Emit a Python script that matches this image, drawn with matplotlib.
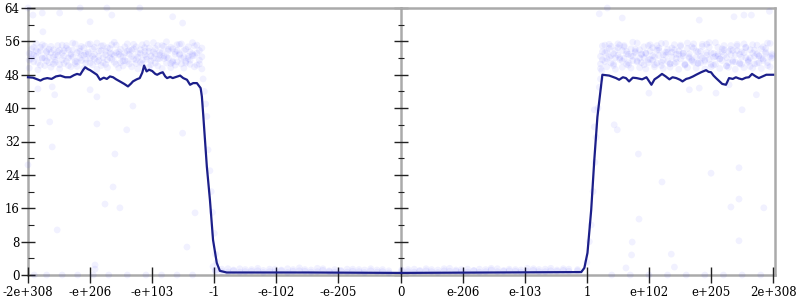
import matplotlib
matplotlib.use("Agg")
import matplotlib.pyplot as plt
from matplotlib.ticker import MultipleLocator

# ---------------- data ----------------
tick_labels = ["-2e+308", "-e+206", "-e+103", "-1", "-e-102", "-e-205", "0",
               "e-206", "e-103", "1", "e+102", "e+205", "2e+308"]
y_ticks = [0, 8, 16, 24, 32, 40, 48, 56, 64]

line_x = [0.00, 0.08, 0.15, 0.20, 0.25, 0.31, 0.38, 0.45, 0.52, 0.60,
          0.68, 0.74, 0.79, 0.84, 0.89, 0.92, 0.97, 1.00, 1.05, 1.11,
          1.16, 1.22, 1.27, 1.32, 1.37, 1.42, 1.48, 1.55, 1.61, 1.66,
          1.69, 1.75, 1.80, 1.84, 1.87, 1.91, 1.95, 2.00, 2.05, 2.08,
          2.13, 2.17, 2.21, 2.24, 2.29, 2.33, 2.39, 2.45, 2.50, 2.56,
          2.61, 2.66, 2.72, 2.75, 2.78, 2.80, 2.82, 2.85, 2.88, 2.93,
          2.98, 3.04, 3.09, 3.20, 4.50, 6.00, 7.50, 8.91, 8.96, 9.01,
          9.07, 9.12, 9.17, 9.25, 9.36, 9.47, 9.52, 9.58, 9.63, 9.68,
          9.74, 9.80, 9.86, 9.89, 9.96, 10.04, 10.09, 10.15, 10.21, 10.27,
          10.33, 10.38, 10.44, 10.50, 10.54, 10.60, 10.65, 10.71, 10.76, 10.84,
          10.92, 10.96, 11.00, 11.04, 11.08, 11.13, 11.18, 11.24, 11.29, 11.35,
          11.40, 11.45, 11.50, 11.56, 11.61, 11.66, 11.72, 11.77, 11.83, 11.89,
          12.00]
line_y = [47.4, 47.3, 46.9, 46.6, 47.0, 47.2, 47.0, 47.6, 47.8, 47.4,
          47.4, 47.9, 48.2, 48.0, 49.2, 49.8, 49.3, 49.1, 48.6, 48.0,
          46.8, 47.3, 47.0, 47.6, 47.4, 46.9, 46.4, 45.8, 45.2, 45.9,
          46.4, 46.9, 47.2, 48.5, 50.2, 48.8, 49.2, 48.9, 48.2, 48.0,
          48.4, 48.6, 47.6, 47.2, 47.5, 47.2, 47.5, 47.8, 47.2, 46.8,
          45.6, 46.0, 46.0, 45.4, 44.8, 42.8, 38.8, 32.4, 26.0, 18.0,
          8.4, 2.9, 1.0, 0.6, 0.6, 0.5, 0.6, 0.7, 1.7, 5.3,
          15.6, 27.6, 37.9, 48.0, 47.8, 47.2, 46.8, 47.4, 47.2, 46.4,
          47.3, 47.2, 47.0, 46.9, 47.4, 45.6, 46.9, 47.5, 48.2, 47.6,
          46.9, 47.4, 47.2, 46.8, 46.4, 47.0, 47.2, 47.6, 48.0, 48.6,
          49.1, 48.7, 48.6, 47.8, 47.2, 46.5, 45.8, 45.6, 47.2, 47.0,
          47.4, 47.1, 46.9, 47.3, 47.4, 48.2, 47.6, 47.2, 47.6, 48.0,
          48.0]

band_left_x = [0.02, 0.06, 0.09, 0.13, 0.16, 0.20, 0.23, 0.27, 0.30, 0.34,
               0.37, 0.41, 0.44, 0.48, 0.51, 0.55, 0.58, 0.62, 0.65, 0.69,
               0.72, 0.76, 0.79, 0.83, 0.86, 0.90, 0.93, 0.97, 1.00, 1.04,
               1.07, 1.11, 1.14, 1.18, 1.21, 1.25, 1.28, 1.32, 1.35, 1.39,
               1.42, 1.46, 1.49, 1.53, 1.56, 1.60, 1.63, 1.67, 1.70, 1.74,
               1.77, 1.81, 1.84, 1.88, 1.91, 1.95, 1.98, 2.02, 2.05, 2.09,
               2.12, 2.16, 2.19, 2.23, 2.26, 2.30, 2.33, 2.37, 2.40, 2.44,
               2.47, 2.51, 2.54, 2.58, 2.61, 2.65, 2.68, 2.72, 2.76, 2.80]
band_left_y1 = [53.1, 51.8, 54.6, 52.4, 50.9, 53.7, 55.2, 52.0, 51.3, 54.1,
                53.3, 50.6, 52.8, 55.0, 53.9, 51.6, 52.5, 54.4, 50.2, 53.0,
                52.2, 55.4, 51.1, 53.6, 54.8, 52.7, 50.8, 53.4, 51.9, 54.2,
                52.9, 55.6, 51.4, 53.8, 52.1, 50.5, 54.5, 53.2, 51.7, 52.6,
                55.1, 53.5, 50.9, 52.3, 54.7, 51.2, 53.9, 52.4, 55.3, 50.7,
                53.1, 54.0, 51.5, 52.8, 55.5, 53.6, 50.4, 52.0, 54.3, 51.8,
                53.4, 55.0, 52.5, 50.8, 53.7, 54.6, 51.3, 52.9, 55.2, 53.0,
                50.6, 52.2, 54.1, 51.9, 53.5, 55.7, 52.6, 50.3, 53.8, 54.4]
band_left_y2 = [51.5, 54.2, 52.7, 55.5, 53.4, 50.3, 52.1, 54.9, 53.6, 50.9,
                54.8, 52.3, 51.0, 53.5, 50.4, 55.1, 53.8, 51.2, 54.0, 52.6,
                55.6, 50.7, 53.3, 52.0, 51.4, 54.5, 53.1, 55.3, 50.8, 52.4,
                54.6, 51.1, 53.7, 50.2, 55.0, 52.8, 51.6, 54.3, 53.0, 55.8,
                50.5, 52.9, 54.1, 51.3, 53.2, 55.4, 50.6, 53.9, 51.8, 54.7,
                52.2, 50.9, 55.2, 53.6, 51.7, 54.4, 52.5, 55.7, 53.0, 50.1,
                51.9, 53.3, 54.8, 55.9, 52.0, 50.7, 54.2, 53.5, 51.1, 52.7,
                55.4, 53.8, 50.8, 52.4, 51.5, 53.0, 54.9, 55.1, 50.6, 52.3]
band_left_y3 = [49.6, 52.9, 51.1, 53.8, 49.2, 54.6, 51.9, 50.2, 53.4, 52.2,
                49.8, 54.0, 51.5, 52.6, 49.4, 53.2, 50.7, 55.0, 52.0, 49.9,
                53.9, 51.2, 50.0, 54.3, 52.8, 49.5, 51.7, 53.0, 55.4, 50.4,
                51.8, 49.3, 52.4, 54.9, 50.9, 53.6, 49.7, 52.1, 55.2, 51.0,
                53.3, 49.6, 52.5, 50.1, 51.4, 53.7, 52.9, 49.9, 54.2, 51.6,
                49.4, 53.1, 50.6, 54.5, 52.3, 49.8, 51.3, 53.5, 50.8, 55.0,
                52.7, 49.5, 51.9, 52.2, 54.1, 49.7, 51.0, 50.3, 53.8, 55.3,
                52.0, 49.6, 51.2, 54.7, 50.5, 52.6, 49.9, 53.2, 51.5, 49.4]

band_right_x = [9.22, 9.25, 9.29, 9.32, 9.36, 9.39, 9.43, 9.46, 9.50, 9.53,
                9.57, 9.60, 9.64, 9.67, 9.71, 9.74, 9.78, 9.81, 9.85, 9.88,
                9.92, 9.95, 9.99, 10.02, 10.06, 10.09, 10.13, 10.16, 10.20, 10.23,
                10.27, 10.30, 10.34, 10.37, 10.41, 10.44, 10.48, 10.51, 10.55, 10.58,
                10.62, 10.65, 10.69, 10.72, 10.76, 10.79, 10.83, 10.86, 10.90, 10.93,
                10.97, 11.00, 11.04, 11.07, 11.11, 11.14, 11.18, 11.21, 11.25, 11.28,
                11.32, 11.35, 11.39, 11.42, 11.46, 11.49, 11.53, 11.56, 11.60, 11.63,
                11.67, 11.70, 11.74, 11.77, 11.81, 11.84, 11.88, 11.91, 11.95, 11.98]
band_right_y1 = [52.4, 54.9, 51.2, 53.6, 55.3, 50.8, 53.0, 52.1, 54.5, 51.7,
                 53.8, 55.0, 50.5, 52.9, 54.2, 51.4, 53.3, 55.6, 52.0, 50.9,
                 54.7, 53.1, 51.6, 55.2, 52.6, 50.4, 53.9, 54.4, 51.0, 52.8,
                 55.5, 53.4, 50.7, 52.3, 54.0, 51.9, 53.7, 55.1, 52.5, 50.6,
                 54.3, 53.0, 51.3, 55.4, 52.2, 50.8, 53.6, 54.8, 51.5, 52.7,
                 55.7, 53.2, 50.3, 52.4, 54.6, 51.8, 53.5, 55.0, 52.1, 50.9,
                 54.1, 53.8, 51.1, 55.3, 52.9, 50.5, 53.3, 54.5, 51.6, 52.0,
                 55.2, 53.9, 50.7, 52.6, 54.2, 51.4, 53.1, 55.6, 52.3, 53.0]
band_right_y2 = [50.6, 53.5, 55.1, 51.9, 54.3, 52.6, 50.2, 53.8, 55.4, 52.1,
                 51.3, 54.7, 53.0, 50.9, 52.5, 55.8, 53.6, 51.1, 54.0, 52.8,
                 50.4, 53.2, 55.0, 51.7, 54.5, 52.3, 50.8, 53.9, 55.5, 51.5,
                 52.7, 54.1, 50.6, 53.4, 55.2, 51.0, 52.9, 54.8, 53.1, 50.3,
                 55.6, 52.0, 51.6, 54.4, 53.7, 50.7, 52.4, 55.3, 51.2, 53.3,
                 54.6, 50.5, 52.2, 55.7, 53.0, 51.8, 54.2, 52.7, 50.1, 53.6,
                 55.0, 51.4, 52.8, 54.9, 50.8, 53.5, 55.4, 52.1, 51.0, 54.0,
                 53.2, 50.6, 55.1, 52.5, 51.9, 54.7, 53.4, 50.9, 55.5, 52.0]
band_right_y3 = [49.5, 51.6, 53.3, 49.9, 52.2, 54.8, 50.6, 49.3, 52.7, 55.1,
                 49.8, 51.9, 53.6, 50.3, 49.6, 52.4, 54.1, 51.3, 49.7, 53.0,
                 52.1, 49.4, 50.9, 53.7, 51.5, 49.9, 55.0, 52.6, 50.2, 49.5,
                 53.4, 51.2, 49.8, 54.4, 50.7, 52.9, 49.3, 51.8, 53.2, 50.4,
                 49.7, 52.3, 54.7, 51.0, 49.6, 53.5, 50.8, 52.0, 49.4, 55.3,
                 51.7, 49.9, 53.1, 50.5, 52.5, 49.5, 51.4, 54.0, 50.1, 49.8,
                 52.8, 51.1, 49.3, 53.8, 50.6, 52.2, 49.7, 54.6, 51.3, 50.0,
                 49.6, 52.4, 53.0, 50.9, 49.5, 51.8, 54.3, 50.2, 49.9, 52.6]

bottom_x = [3.02, 3.12, 3.22, 3.31, 3.41, 3.50, 3.60, 3.70, 3.79, 3.89,
            3.98, 4.08, 4.18, 4.27, 4.37, 4.46, 4.56, 4.66, 4.75, 4.85,
            4.94, 5.04, 5.14, 5.23, 5.33, 5.42, 5.52, 5.62, 5.71, 5.81,
            6.02, 6.12, 6.22, 6.31, 6.41, 6.50, 6.60, 6.70, 6.79, 6.89,
            6.98, 7.08, 7.18, 7.27, 7.37, 7.46, 7.56, 7.66, 7.75, 7.85,
            7.94, 8.04, 8.14, 8.23, 8.33, 8.42, 8.52, 8.62, 8.71, 8.85]
bottom_y1 = [1.2, 0.8, 1.5, 1.0, 0.7, 1.3, 0.9, 1.6, 1.1, 0.8,
             1.4, 1.0, 0.6, 1.3, 1.7, 0.9, 1.2, 0.8, 1.5, 1.0,
             0.7, 1.1, 1.4, 0.9, 1.3, 0.6, 1.0, 1.2, 0.8, 0.5,
             0.9, 1.3, 0.7, 1.1, 1.5, 0.8, 1.2, 1.0, 1.6, 0.9,
             1.3, 0.7, 1.1, 1.4, 0.8, 1.2, 1.5, 0.9, 1.0, 1.3,
             0.7, 1.6, 1.1, 0.8, 1.4, 1.0, 1.2, 1.5, 0.9, 1.3]
bottom_y2 = [0.9, 1.4, 0.7, 1.2, 1.5, 0.8, 1.3, 1.0, 0.6, 1.4,
             0.8, 1.2, 1.5, 0.9, 1.0, 1.3, 0.7, 1.6, 1.1, 0.8,
             1.3, 0.9, 0.7, 1.4, 0.8, 1.2, 1.5, 0.7, 1.3, 1.0,
             1.2, 0.8, 1.4, 0.9, 1.0, 1.3, 0.6, 1.5, 0.9, 1.2,
             0.8, 1.4, 1.0, 0.7, 1.3, 1.6, 0.8, 1.1, 1.4, 0.9,
             1.2, 0.9, 1.5, 1.3, 0.8, 1.6, 0.9, 1.1, 1.4, 1.0]

zero_x = [0.10, 0.30, 0.55, 0.80, 1.05, 1.30, 1.60, 1.90, 2.15, 2.40, 2.65,
          9.40, 9.70, 10.00, 10.30, 10.60, 10.90, 11.20, 11.50, 11.80]
zero_y = [0.0, 0.0, 0.0, 0.0, 0.0, 0.0, 0.0, 0.0, 0.0, 0.0, 0.0,
          0.0, 0.0, 0.0, 0.0, 0.0, 0.0, 0.0, 0.0, 0.0]

outlier_x = [0.00, 0.08, 0.23, 0.51, 0.84, 1.00, 1.27, 1.35, 1.80, 2.33,
             2.49, 0.24, 0.16, 0.39, 0.43, 1.00, 1.11, 1.69, 0.35, 1.11,
             1.59, 2.49, 0.39, 1.40, 0.00, 1.37, 1.24, 1.48, 0.47, 2.56,
             2.69, 1.08, 1.08,
             9.83, 11.00, 11.45, 10.21, 11.45, 11.32, 11.85, 9.84, 9.73, 11.45,
             9.72, 10.36, 9.63, 10.41, 9.20, 9.33, 9.57, 10.81, 11.37, 11.53,
             11.94, 11.65, 10.81, 11.08, 11.29, 11.50, 11.73, 9.44, 9.49, 10.00,
             10.65, 9.12, 9.12,
             2.82, 2.84, 2.86, 2.88, 2.90, 2.93, 2.95, 2.97, 3.00, 3.02,
             3.04, 2.98, 9.00, 9.04, 9.07, 9.10, 9.13, 9.15, 9.18, 9.20,
             9.22, 9.24]
outlier_y = [64.0, 62.3, 62.8, 62.8, 64.0, 60.7, 64.0, 62.3, 64.0, 61.9,
             60.4, 58.3, 44.6, 45.1, 43.2, 44.4, 42.7, 40.5, 36.7, 36.2,
             34.8, 34.0, 30.7, 29.0, 26.4, 21.1, 17.0, 16.1, 10.8, 6.7,
             14.9, 2.4, 1.4,
             29.0, 24.4, 25.7, 22.3, 18.2, 16.3, 16.1, 13.4, 7.9, 8.2,
             4.8, 5.0, 1.7, 1.9, 62.6, 64.0, 61.6, 61.1, 61.9, 62.3,
             63.2, 62.3, 44.8, 43.6, 45.6, 39.6, 43.2, 36.0, 34.8, 43.6,
             44.4, 39.6, 35.5,
             47.0, 44.0, 41.0, 38.0, 30.0, 25.0, 20.0, 15.0, 10.0, 5.0,
             3.0, 2.0, 3.0, 8.0, 12.0, 20.0, 27.0, 33.0, 40.0, 45.0,
             47.0, 49.0]

# ---------------- figure ----------------
plt.rcParams['font.family'] = ['DejaVu Serif']
fig = plt.figure(figsize=(8, 3), dpi=100)
ax = fig.add_axes([28 / 800, 25 / 300, 747 / 800, 267 / 300])

pt_color = (0.0, 0.0, 1.0, 0.055)
ms = 24
for xs, ys in [(band_left_x, band_left_y1), (band_left_x, band_left_y2),
               (band_left_x, band_left_y3),
               (band_right_x, band_right_y1), (band_right_x, band_right_y2),
               (band_right_x, band_right_y3),
               (bottom_x, bottom_y1), (bottom_x, bottom_y2),
               (zero_x, zero_y), (outlier_x, outlier_y)]:
    ax.scatter(xs, ys, s=ms, color=pt_color, edgecolors='none', zorder=2,
               clip_on=False)

ax.plot(line_x, line_y, color='#1c1f8a', lw=1.6, zorder=4, clip_on=False)

ax.set_xlim(0, 12.03)
ax.set_ylim(0, 64)

spine_col = '#aaaaaa'
for s in ['left', 'right', 'top', 'bottom']:
    ax.spines[s].set_color(spine_col)
    ax.spines[s].set_linewidth(1.8)
    ax.spines[s].set_zorder(1)

ax.set_xticks(range(len(tick_labels)))
ax.set_xticklabels(tick_labels)
ax.set_yticks(y_ticks)
ax.yaxis.set_minor_locator(MultipleLocator(4))
ax.tick_params(axis='x', which='major', direction='inout', length=12,
               width=1, color='#222222', labelsize=8.5, pad=2, top=False)
ax.tick_params(axis='y', which='major', direction='inout', length=10,
               width=1, color='#222222', labelsize=8.5, pad=1,
               left=True, right=True)
ax.tick_params(axis='y', which='minor', direction='in', length=4,
               width=0.8, color='#222222', left=True, right=True)

# center axis at x = 0 (tick index 6)
cax = ax.twinx()
cax.set_ylim(0, 64)
cax.set_xlim(ax.get_xlim())
for s in ['top', 'bottom', 'left']:
    cax.spines[s].set_visible(False)
cax.spines['right'].set_position(('data', 6))
cax.spines['right'].set_color(spine_col)
cax.spines['right'].set_linewidth(1.8)
cax.spines['right'].set_zorder(1)
cax.set_yticks(y_ticks)
cax.yaxis.set_minor_locator(MultipleLocator(4))
cax.tick_params(axis='y', which='major', direction='inout', length=10,
                width=1, color='#222222', labelright=False)
cax.tick_params(axis='y', which='minor', direction='inout', length=5,
                width=0.8, color='#222222')
cax.patch.set_visible(False)
ax.set_zorder(cax.get_zorder() + 1)
ax.patch.set_visible(False)

fig.savefig('out.png', dpi=100)
